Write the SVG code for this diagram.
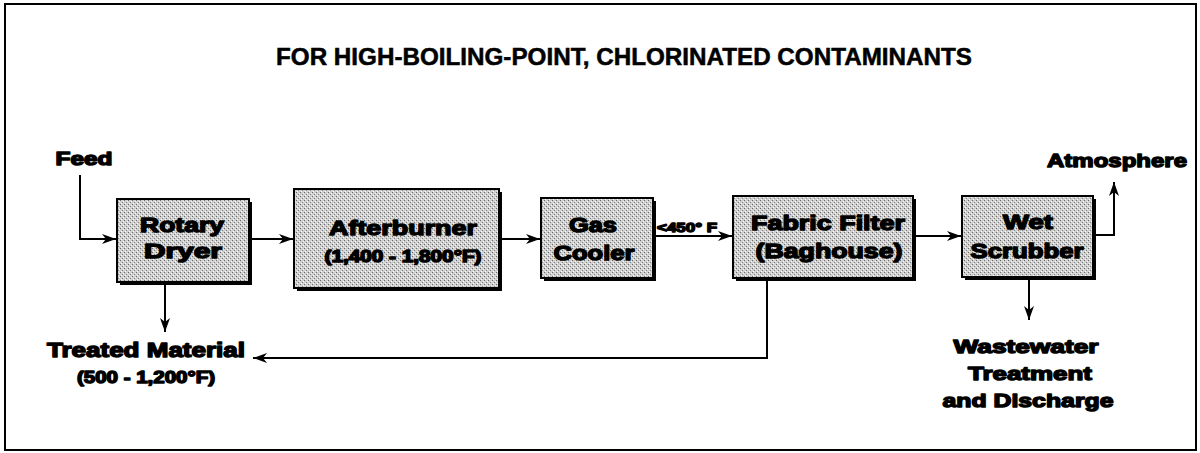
<svg xmlns="http://www.w3.org/2000/svg" width="1200" height="453" viewBox="0 0 1200 453">
<defs>
<pattern id="stip" width="4" height="4" patternUnits="userSpaceOnUse">
<rect width="4" height="4" fill="#d0d0d0"/>
<rect x="0" y="0" width="1" height="1" fill="#6a6a6a"/>
<rect x="2" y="2" width="1" height="1" fill="#808080"/>
<rect x="1" y="3" width="1" height="1" fill="#ffffff"/>
<rect x="3" y="1" width="1" height="1" fill="#f4f4f4"/>
</pattern>
<marker id="arr" viewBox="0 0 14 10" refX="14" refY="5" markerWidth="14" markerHeight="10" markerUnits="userSpaceOnUse" orient="auto">
<path d="M0,0 L14,5 L0,10 L4,5 Z" fill="#000"/>
</marker>
</defs>
<style>
.box{fill:url(#stip);stroke:#000;stroke-width:2}
.shadow{fill:#000}
.t{font-family:"Liberation Sans",Arial,sans-serif;font-weight:bold;fill:#000;stroke:#000;stroke-width:1.4;stroke-linejoin:round;text-anchor:middle}
.title{font-family:"Liberation Sans",Arial,sans-serif;font-weight:bold;fill:#000;stroke:#000;stroke-width:0.5;text-anchor:middle}
.c{fill:none;stroke:#000;stroke-width:2}
</style>
<rect x="5" y="4" width="1191" height="446" fill="#fff" stroke="#000" stroke-width="2"/>
<text class="title" x="624" y="65" font-size="23" textLength="696" lengthAdjust="spacingAndGlyphs">FOR HIGH-BOILING-POINT, CHLORINATED CONTAMINANTS</text>

<g id="connectors">
<path class="c" d="M80,175 V239 H116" marker-end="url(#arr)"/>
<path class="c" d="M250,239 H293" marker-end="url(#arr)"/>
<path class="c" d="M500,239 H540" marker-end="url(#arr)"/>
<path class="c" d="M654,236 H732" marker-end="url(#arr)"/>
<path class="c" d="M914,236 H961" marker-end="url(#arr)"/>
<path class="c" d="M1094,235 H1114 V182" marker-end="url(#arr)"/>
<path class="c" d="M165,283 V332" marker-end="url(#arr)"/>
<path class="c" d="M767,279 V358 H253" marker-end="url(#arr)"/>
<path class="c" d="M1029,278 V320" marker-end="url(#arr)"/>
<text class="t" x="687" y="232" font-size="13" textLength="60" lengthAdjust="spacingAndGlyphs" stroke-width="0.8">&lt;450° F</text>
</g>

<g id="feed"><text class="t" x="84" y="165" font-size="18" textLength="57" lengthAdjust="spacingAndGlyphs">Feed</text></g>

<g id="rotary-dryer">
<rect class="shadow" x="120" y="202" width="132" height="83"/>
<rect class="box" x="117" y="199" width="132" height="83"/>
<text class="t" x="182" y="232" font-size="21" textLength="84" lengthAdjust="spacingAndGlyphs">Rotary</text>
<text class="t" x="183" y="258" font-size="21" textLength="78" lengthAdjust="spacingAndGlyphs">Dryer</text>
</g>

<g id="afterburner">
<rect class="shadow" x="297" y="192" width="205" height="99"/>
<rect class="box" x="294" y="189" width="205" height="99"/>
<text class="t" x="403" y="235" font-size="21" textLength="148" lengthAdjust="spacingAndGlyphs">Afterburner</text>
<text class="t" x="403" y="262" font-size="16" textLength="157" lengthAdjust="spacingAndGlyphs" stroke-width="1">(1,400 - 1,800°F)</text>
</g>

<g id="gas-cooler">
<rect class="shadow" x="544" y="201" width="112" height="80"/>
<rect class="box" x="541" y="198" width="112" height="80"/>
<text class="t" x="593" y="232" font-size="21" textLength="48" lengthAdjust="spacingAndGlyphs">Gas</text>
<text class="t" x="594" y="260" font-size="21" textLength="81" lengthAdjust="spacingAndGlyphs">Cooler</text>
</g>

<g id="fabric-filter">
<rect class="shadow" x="736" y="199" width="180" height="82"/>
<rect class="box" x="733" y="196" width="180" height="82"/>
<text class="t" x="828" y="230" font-size="21" textLength="154" lengthAdjust="spacingAndGlyphs">Fabric Filter</text>
<text class="t" x="829" y="258" font-size="21" textLength="147" lengthAdjust="spacingAndGlyphs">(Baghouse)</text>
</g>

<g id="wet-scrubber">
<rect class="shadow" x="965" y="199" width="131" height="81"/>
<rect class="box" x="962" y="196" width="131" height="81"/>
<text class="t" x="1028" y="229" font-size="21" textLength="50" lengthAdjust="spacingAndGlyphs">Wet</text>
<text class="t" x="1027" y="258" font-size="21" textLength="113" lengthAdjust="spacingAndGlyphs">Scrubber</text>
</g>

<g id="atmosphere"><text class="t" x="1117" y="167" font-size="19" textLength="140" lengthAdjust="spacingAndGlyphs">Atmosphere</text></g>

<g id="treated-material">
<text class="t" x="146" y="357" font-size="20" textLength="198" lengthAdjust="spacingAndGlyphs">Treated Material</text>
<text class="t" x="146" y="383" font-size="16" textLength="138" lengthAdjust="spacingAndGlyphs" stroke-width="1">(500 - 1,200°F)</text>
</g>

<g id="wastewater">
<text class="t" x="1026" y="353" font-size="19" textLength="145" lengthAdjust="spacingAndGlyphs">Wastewater</text>
<text class="t" x="1030" y="380" font-size="19" textLength="124" lengthAdjust="spacingAndGlyphs">Treatment</text>
<text class="t" x="1028" y="407" font-size="19" textLength="171" lengthAdjust="spacingAndGlyphs">and Discharge</text>
</g>
</svg>
